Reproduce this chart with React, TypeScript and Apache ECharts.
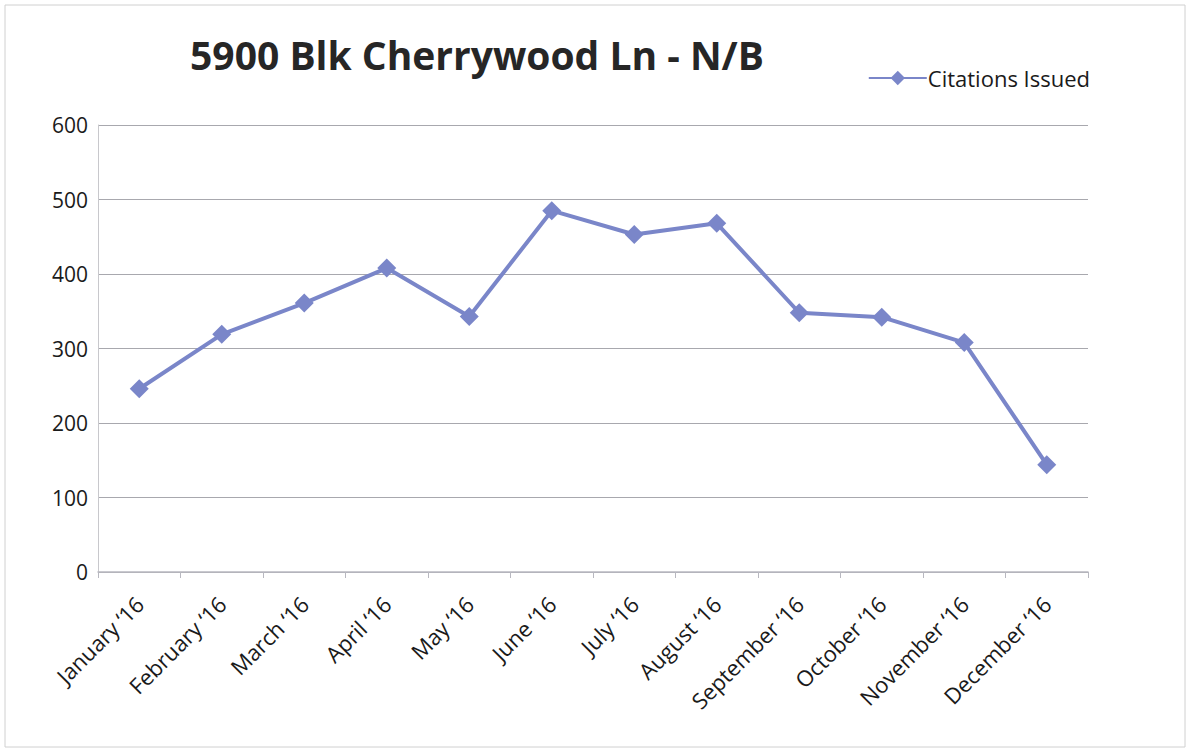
import React, { useEffect, useRef } from "react";
import * as echarts from "echarts";

const categories = [
  "January '16", "February '16", "March '16", "April '16", "May '16", "June '16",
  "July '16", "August '16", "September '16", "October '16", "November '16", "December '16",
];
const citations = [246, 319, 361, 408, 343, 485, 453, 468, 348, 342, 308, 144];
const yTicks = [0, 100, 200, 300, 400, 500, 600];

export default function App() {
  const ref = useRef<HTMLDivElement>(null);
  useEffect(() => {
    document.body.style.margin = "0";
    const chart = echarts.init(ref.current!, null, { renderer: "svg" });
    const font = "'Open Sans', Lato, sans-serif";
    chart.setOption({
      animation: false,
      backgroundColor: "#ffffff",
      title: {
        text: "5900 Blk Cherrywood Ln - N/B",
        left: 472,
        top: 30,
        textAlign: "center",
        textStyle: { fontFamily: font, fontSize: 39, fontWeight: "bold", color: "#262626" },
      },
      legend: {
        right: 92,
        top: 62,
        itemWidth: 58,
        itemHeight: 18,
        itemGap: 4,
        textStyle: { fontFamily: font, fontSize: 22, color: "#1a1a1a", padding: [0, 0, 0, -4] },
        data: ["Citations Issued"],
      },
      graphic: [
        {
          type: "rect",
          shape: { x: 5, y: 5, width: 1180, height: 742 },
          style: { fill: "none", stroke: "#d0d0d0", lineWidth: 1 },
          silent: true,
        },
      ],
      grid: { left: 98, right: 99, top: 125, bottom: 179 },
      xAxis: {
        type: "category",
        data: categories,
        boundaryGap: true,
        axisLine: { lineStyle: { color: "#b8b8c0", width: 1.5 } },
        axisTick: { show: true, length: 6, lineStyle: { color: "#b8b8c0" } },
        axisLabel: {
          rotate: 45,
          interval: 0,
          fontFamily: font,
          fontSize: 22,
          color: "#1a1a1a",
          margin: 28,
          formatter: (v: string) => v.replace("'", "\u2018"),
        },
      },
      yAxis: {
        type: "value",
        min: yTicks[0],
        max: yTicks[yTicks.length - 1],
        interval: 100,
        axisLine: { show: true, lineStyle: { color: "#c8c8cc", width: 1 } },
        axisTick: { show: false },
        splitLine: { lineStyle: { color: "#a8a8ae", width: 1.2 } },
        axisLabel: { fontFamily: font, fontSize: 21, color: "#1a1a1a", margin: 10 },
      },
      series: [
        {
          name: "Citations Issued",
          type: "line",
          data: citations,
          symbol: "diamond",
          symbolSize: 19,
          lineStyle: { color: "#7a86c9", width: 4 },
          itemStyle: { color: "#7a86c9" },
        },
      ],
    });
    return () => chart.dispose();
  }, []);
  return <div ref={ref} style={{ width: 1187, height: 751 }} />;
}
